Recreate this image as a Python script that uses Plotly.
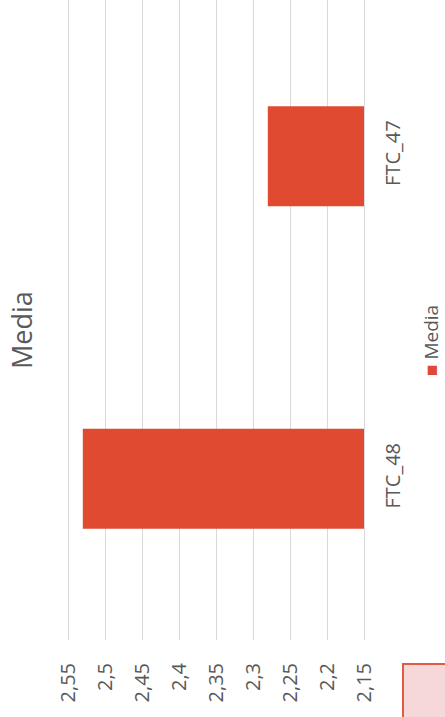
import plotly.graph_objects as go

# Data
categories = ["FTC_48", "FTC_47"]
media_values = [2.53, 2.28]
axis_min = 2.15
tick_values = [2.15, 2.2, 2.25, 2.3, 2.35, 2.4, 2.45, 2.5, 2.55]
tick_labels = ["2,15", "2,2", "2,25", "2,3", "2,35", "2,4", "2,45", "2,5", "2,55"]
series_name = "Media"

BAR_COLOR = "#e04a31"
TEXT_COLOR = "#595959"
GRID_COLOR = "#d9d9d9"
FONT = "'Open Sans', Lato, sans-serif"

fig = go.Figure()
# bars start at the axis minimum, as in the original column chart
fig.add_trace(go.Bar(
    y=categories,
    x=[v - axis_min for v in media_values],
    base=axis_min,
    orientation="h",
    name=series_name,
    marker=dict(color=BAR_COLOR, line=dict(width=0)),
    width=0.31,
    showlegend=False,
))

W, H = 445, 717
ml, mr, mt, mb = 64, 77, 0, 77
PW, PH = W - ml - mr, H - mt - mb

# value axis: 2.55 sits at x=68 and 2.15 at x=364 (296 px for 0.4);
# the plot box is padded a few px so the outer gridlines are drawn
per_px = 0.4 / 296
x_left = 2.55 + (68 - ml) * per_px
x_right = 2.15 - ((W - mr) - 364) * per_px

fig.update_layout(
    width=W,
    height=H,
    margin=dict(l=ml, r=mr, t=mt, b=mb, pad=0),
    paper_bgcolor="white",
    plot_bgcolor="white",
    font=dict(family=FONT, color=TEXT_COLOR),
    xaxis=dict(
        range=[x_left, x_right],
        tickmode="array",
        tickvals=tick_values,
        ticktext=tick_labels,
        tickangle=-90,
        tickfont=dict(size=20, color=TEXT_COLOR, family=FONT),
        showgrid=True,
        gridcolor=GRID_COLOR,
        gridwidth=1,
        zeroline=False,
        showline=False,
        ticks="",
        ticklabelstandoff=18,
        fixedrange=True,
    ),
    yaxis=dict(
        type="category",
        categoryorder="array",
        categoryarray=categories,
        range=[-0.5, 1.484],
        side="right",
        tickangle=-90,
        tickfont=dict(size=20, color=TEXT_COLOR, family=FONT),
        showgrid=False,
        zeroline=False,
        showline=False,
        ticks="",
        ticklabelstandoff=11,
        fixedrange=True,
    ),
)

# Chart title, rotated along the left edge
fig.add_annotation(
    text=series_name,
    xref="paper", yref="paper",
    x=(21 - ml) / PW, y=1 - 330 / PH,
    xanchor="center", yanchor="middle",
    textangle=-90,
    showarrow=False,
    font=dict(size=27, color=TEXT_COLOR, family=FONT),
)

# Legend entry, rotated along the right edge
fig.add_annotation(
    text=f"<span style='color:{BAR_COLOR}'>■</span> {series_name}",
    xref="paper", yref="paper",
    x=(431 - ml) / PW, y=1 - 340 / PH,
    xanchor="center", yanchor="middle",
    textangle=-90,
    showarrow=False,
    font=dict(size=19, color=TEXT_COLOR, family=FONT),
)

# Neighbouring panel frame in the bottom-right corner
fig.add_shape(
    type="rect",
    xref="paper", yref="paper",
    x0=(403 - ml) / PW, x1=(460 - ml) / PW,
    y0=1 - 730 / PH, y1=1 - 664 / PH,
    fillcolor="#f7d8d8",
    line=dict(color="#e05a45", width=2),
    layer="above",
)

fig.write_html("out.html")
